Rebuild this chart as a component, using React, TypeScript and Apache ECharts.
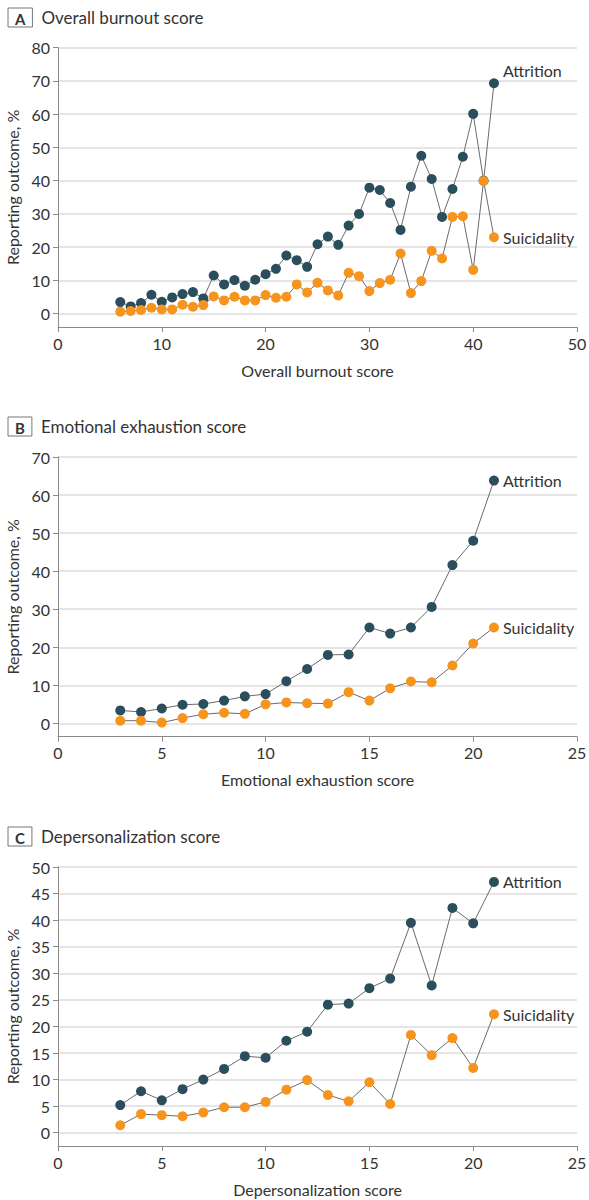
import React, { useEffect, useRef } from 'react';
import * as echarts from 'echarts';

// Panel A: overall burnout score
const scoresA = [6, 7, 8, 9, 10, 11, 12, 13, 14, 15, 16, 17, 18, 19, 20, 21, 22, 23, 24, 25, 26, 27, 28, 29, 30, 31, 32, 33, 34, 35, 36, 37, 38, 39, 40, 41, 42];
const attritionA = [3.5, 2.2, 3.2, 5.7, 3.6, 4.9, 5.9, 6.5, 4.6, 11.5, 8.8, 10.1, 8.4, 10.2, 11.9, 13.5, 17.5, 16.1, 14.1, 20.9, 23.2, 20.7, 26.5, 30.0, 37.9, 37.2, 33.3, 25.2, 38.2, 47.5, 40.5, 29.1, 37.5, 47.2, 60.1, 40.0, 69.3];
const suicidalityA = [0.6, 0.8, 1.1, 1.8, 1.3, 1.3, 2.7, 2.1, 2.6, 5.2, 4.0, 5.1, 4.0, 4.0, 5.6, 4.8, 5.1, 8.8, 6.4, 9.3, 7.0, 5.5, 12.3, 11.3, 6.8, 9.2, 10.2, 18.1, 6.2, 9.8, 18.9, 16.6, 29.1, 29.3, 13.2, 39.9, 23.0];
const yTicksA = [0, 10, 20, 30, 40, 50, 60, 70, 80];

// Panel B: emotional exhaustion score
const scoresB = [3, 4, 5, 6, 7, 8, 9, 10, 11, 12, 13, 14, 15, 16, 17, 18, 19, 20, 21];
const attritionB = [3.4, 3.0, 3.9, 4.9, 5.1, 6.0, 7.1, 7.7, 11.1, 14.3, 18.0, 18.1, 25.2, 23.6, 25.2, 30.6, 41.6, 48.0, 63.8];
const suicidalityB = [0.7, 0.7, 0.2, 1.4, 2.4, 2.8, 2.5, 5.0, 5.5, 5.3, 5.2, 8.2, 6.0, 9.2, 11.0, 10.8, 15.2, 21.0, 25.2];
const yTicksB = [0, 10, 20, 30, 40, 50, 60, 70];

// Panel C: depersonalization score
const scoresC = [3, 4, 5, 6, 7, 8, 9, 10, 11, 12, 13, 14, 15, 16, 17, 18, 19, 20, 21];
const attritionC = [5.2, 7.8, 6.1, 8.2, 10.0, 12.0, 14.4, 14.1, 17.3, 19.0, 24.1, 24.3, 27.2, 29.0, 39.5, 27.7, 42.3, 39.4, 47.2];
const suicidalityC = [1.4, 3.5, 3.3, 3.1, 3.8, 4.8, 4.8, 5.8, 8.1, 9.9, 7.1, 5.9, 9.5, 5.4, 18.4, 14.6, 17.8, 12.2, 22.3];
const yTicksC = [0, 5, 10, 15, 20, 25, 30, 35, 40, 45, 50];

const FONT = 'Lato';
const TEXT = '#333333';
const AXIS = '#8a8a8a';
const GRIDLINE = '#dddddd';
const DARK = '#2a4e5c';
const ORANGE = '#f7941d';

const panels = [
  { letter: 'A', title: 'Overall burnout score', scores: scoresA, attrition: attritionA, suicidality: suicidalityA, yTicks: yTicksA, yMin: -4, xMax: 50, xInterval: 10, top: 47.7, height: 279.3, titleTop: 3, attrOffset: [0, -13] },
  { letter: 'B', title: 'Emotional exhaustion score', scores: scoresB, attrition: attritionB, suicidality: suicidalityB, yTicks: yTicksB, yMin: -3.5, xMax: 25, xInterval: 5, top: 457, height: 279.7, titleTop: 412, attrOffset: [0, 0] },
  { letter: 'C', title: 'Depersonalization score', scores: scoresC, attrition: attritionC, suicidality: suicidalityC, yTicks: yTicksC, yMin: -2.5, xMax: 25, xInterval: 5, top: 867, height: 279, titleTop: 822, attrOffset: [0, 0] },
];

const App: React.FC = () => {
  const chartRef = useRef<HTMLDivElement>(null);

  useEffect(() => {
    if (!chartRef.current) return;
    document.body.style.margin = '0';

    const chart = echarts.init(chartRef.current, null, { renderer: 'svg' });

    const lineSeries = (name: string, i: number, xs: number[], ys: number[], color: string, offset: number[]) => ({
      name,
      type: 'line',
      xAxisIndex: i,
      yAxisIndex: i,
      data: xs.map((x, k) => [x, ys[k]]),
      symbol: 'circle',
      symbolSize: 10,
      itemStyle: { color },
      lineStyle: { color: '#6a6a6a', width: 1 },
      endLabel: {
        show: true,
        formatter: name,
        color: TEXT,
        fontFamily: FONT,
        fontSize: 16,
        distance: 9,
        offset,
      },
      emphasis: { disabled: true },
    });

    const option: any = {
      animation: false,
      textStyle: { fontFamily: FONT },
      title: panels.map((p) => ({
        left: 3,
        top: p.titleTop,
        text: `{box|${p.letter}}{t|${p.title}}`,
        textStyle: {
          fontWeight: 'normal',
          rich: {
            box: {
              fontFamily: FONT,
              fontWeight: 'bold',
              fontSize: 15,
              color: TEXT,
              borderColor: '#777777',
              borderWidth: 1,
              padding: [3, 7, 1, 7],
            },
            t: {
              fontFamily: FONT,
              fontWeight: 'normal',
              fontSize: 17,
              color: TEXT,
              padding: [0, 0, 0, 9],
            },
          },
        },
      })),
      grid: panels.map((p) => ({
        left: 58,
        right: 12,
        top: p.top,
        height: p.height,
        containLabel: false,
        outerBoundsMode: 'none',
      })),
      xAxis: panels.map((p, i) => ({
        type: 'value',
        gridIndex: i,
        min: 0,
        max: p.xMax,
        interval: p.xInterval,
        name: p.title,
        nameLocation: 'middle',
        nameGap: 35,
        nameTextStyle: { color: TEXT, fontSize: 16, fontFamily: FONT },
        axisLine: { show: true, onZero: false, lineStyle: { color: AXIS, width: 1 } },
        axisTick: { show: true, length: 5, lineStyle: { color: AXIS } },
        axisLabel: { color: TEXT, fontSize: 16, fontFamily: FONT, margin: 8 },
        splitLine: { show: false },
      })),
      yAxis: panels.map((p, i) => ({
        type: 'value',
        gridIndex: i,
        min: p.yMin,
        max: p.yTicks[p.yTicks.length - 1],
        name: 'Reporting outcome, %',
        nameLocation: 'middle',
        nameGap: 37,
        nameTextStyle: { color: TEXT, fontSize: 16, fontFamily: FONT },
        axisLine: { show: true, onZero: false, lineStyle: { color: AXIS, width: 1 } },
        axisTick: { show: true, length: 5, customValues: p.yTicks, lineStyle: { color: AXIS } },
        axisLabel: { color: TEXT, fontSize: 16, fontFamily: FONT, margin: 8, customValues: p.yTicks },
        splitLine: { show: true, lineStyle: { color: GRIDLINE, width: 1.5 } },
      })),
      series: panels.flatMap((p, i) => [
        lineSeries('Attrition', i, p.scores, p.attrition, DARK, p.attrOffset),
        lineSeries('Suicidality', i, p.scores, p.suicidality, ORANGE, [0, 0]),
      ]),
    };

    chart.setOption(option);

    const handleResize = () => chart.resize();
    window.addEventListener('resize', handleResize);
    return () => {
      window.removeEventListener('resize', handleResize);
      chart.dispose();
    };
  }, []);

  return <div ref={chartRef} style={{ width: 589, height: 1200, background: '#ffffff' }} />;
};

export default App;
